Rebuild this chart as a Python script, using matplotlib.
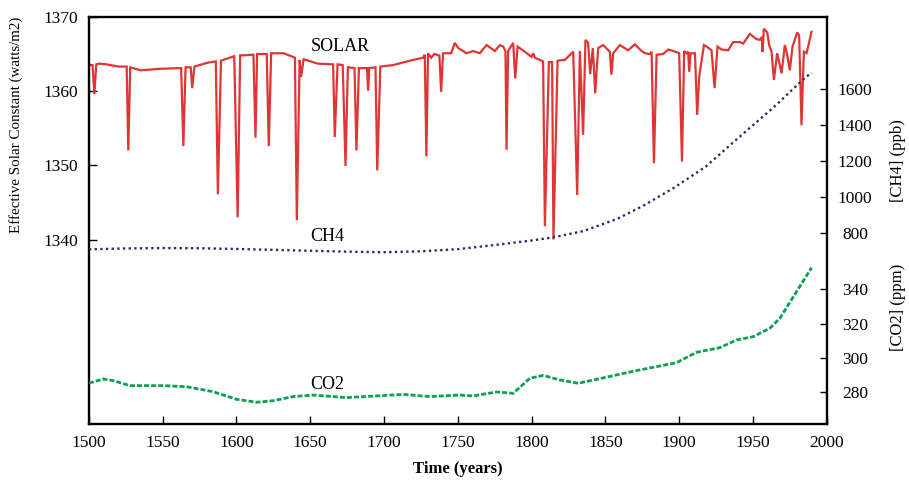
import numpy as np
import matplotlib
matplotlib.use("Agg")
from matplotlib import pyplot as plt

plt.rcParams['font.family'] = ['Liberation Serif', 'DejaVu Serif']
plt.rcParams['font.size'] = 12.5

# effective solar constant (watts/m2)
solar_year = [1500, 1502.5, 1503.7, 1505, 1507, 1512, 1520, 1525.6, 1526.7, 1528,
              1535, 1548, 1562.5, 1564, 1565.5, 1569, 1570, 1571.5, 1580, 1586,
              1587.4, 1589.5, 1598.5, 1600.8, 1602.5, 1611.5, 1612.9, 1614, 1620.5, 1621.9,
              1623.5, 1632, 1639.6, 1640.9, 1642.8, 1643.8, 1645.5, 1655, 1665.5, 1666.6,
              1668.5, 1672, 1673.9, 1675.5, 1680, 1681.3, 1683, 1688.5, 1689.2, 1690,
              1694.2, 1695.4, 1697.5, 1706, 1719.7, 1726.5, 1727.6, 1728.7, 1729.8, 1732,
              1734, 1737.5, 1738.7, 1740, 1745.5, 1748, 1750.3, 1755.9, 1760.4, 1764.9,
              1769.5, 1775.1, 1778.5, 1780.7, 1782.3, 1783.0, 1784.1, 1787.5, 1788.9, 1790.5,
              1795.4, 1799.9, 1801.1, 1802.2, 1807.8, 1809.0, 1811.7, 1813.9, 1814.8, 1817.6,
              1822.5, 1828.2, 1830.9, 1832.7, 1834.9, 1836.5, 1838.3, 1839.7, 1841.5, 1843.1,
              1845.1, 1848.5, 1853.0, 1854.1, 1855.3, 1859.8, 1865.4, 1870.0, 1874.5, 1876.8,
              1880.2, 1881.3, 1882.9, 1884.7, 1889.2, 1892.6, 1896.0, 1900.0, 1901.9, 1903.4,
              1905.0, 1906.1, 1906.8, 1907.7, 1910.7, 1912.2, 1913.6, 1916.8, 1918.6, 1921.9,
              1924.0, 1926.0, 1928.7, 1933.2, 1936.6, 1941.2, 1943.4, 1947.9, 1952.4, 1954.7,
              1956.1, 1956.5, 1957.4, 1959.7, 1961.0, 1962.6, 1964.2, 1966.4, 1969.4, 1971.6,
              1972.8, 1975.0, 1976.8, 1980.0, 1981.3, 1982.9, 1984.5, 1986.3, 1987.4, 1989.7]
solar_val = [1363.5, 1363.5, 1359.6, 1363.6, 1363.7, 1363.6, 1363.3, 1363.3, 1352.0, 1363.2,
             1362.8, 1363.0, 1363.1, 1352.6, 1363.2, 1363.2, 1360.4, 1363.3, 1363.8, 1364.0,
             1346.1, 1364.1, 1364.7, 1343.0, 1364.8, 1364.9, 1353.7, 1365.0, 1365.0, 1352.6,
             1365.1, 1365.1, 1364.5, 1342.6, 1364.2, 1361.9, 1364.3, 1363.7, 1363.6, 1353.8,
             1363.6, 1363.5, 1349.9, 1363.2, 1363.1, 1352.0, 1363.1, 1363.1, 1360.1, 1363.1,
             1363.2, 1349.3, 1363.3, 1363.5, 1364.2, 1364.5, 1364.9, 1351.2, 1365.1, 1364.5,
             1365.0, 1364.8, 1359.9, 1365.1, 1365.1, 1366.5, 1365.8, 1365.1, 1365.4, 1365.1,
             1366.2, 1365.4, 1366.2, 1366.0, 1365.4, 1352.1, 1365.4, 1366.5, 1361.7, 1366.0,
             1365.3, 1364.6, 1365.1, 1364.5, 1364.0, 1341.8, 1363.9, 1363.9, 1340.0, 1364.1,
             1364.2, 1365.3, 1346.0, 1365.4, 1354.1, 1366.9, 1366.5, 1362.3, 1365.8, 1359.7,
             1365.8, 1366.2, 1365.3, 1362.2, 1365.1, 1366.2, 1365.5, 1366.3, 1365.4, 1365.1,
             1365.0, 1365.3, 1350.3, 1364.9, 1365.0, 1365.6, 1365.4, 1365.1, 1350.5, 1365.4,
             1365.1, 1365.3, 1362.6, 1365.1, 1365.1, 1356.8, 1362.0, 1366.2, 1366.0, 1365.5,
             1360.4, 1366.0, 1365.6, 1365.5, 1366.6, 1366.6, 1366.4, 1367.7, 1367.0, 1366.9,
             1367.3, 1365.3, 1368.4, 1367.9, 1366.2, 1365.3, 1361.5, 1365.1, 1362.4, 1366.2,
             1365.3, 1362.8, 1366.0, 1367.9, 1367.5, 1355.4, 1365.3, 1365.1, 1366.0, 1368.0]

# methane (ppb)
ch4_year = [1500, 1525, 1550, 1575, 1600, 1625, 1650, 1675, 1700, 1725, 1750, 1775,
            1800, 1815, 1835, 1858, 1875, 1896, 1918, 1941, 1964, 1986, 1990]
ch4_val = [711, 716, 718, 717, 713, 708, 703, 698, 695, 700, 712, 735,
           760, 778, 812, 880, 950, 1050, 1170, 1336, 1499, 1669, 1690]

# carbon dioxide (ppm)
co2_year = [1500, 1509.8, 1516.5, 1527.8, 1550.4, 1566, 1584, 1600, 1613.7, 1625,
            1638.5, 1652, 1674.7, 1697.2, 1713, 1731, 1751.4, 1760.4, 1776.3, 1787.5,
            1798.8, 1807.9, 1819.2, 1831.6, 1846.3, 1871.1, 1898.2, 1911.8, 1927.6, 1938.9,
            1950.1, 1961.4, 1968.2, 1979.5, 1989.7]
co2_val = [285.1, 287.6, 286.6, 283.7, 283.7, 283.1, 280.2, 275.7, 274.0, 274.9,
           277.3, 278.2, 276.7, 277.8, 278.6, 277.3, 278.2, 277.7, 280.0, 279.2,
           288.0, 289.7, 287.0, 285.1, 287.8, 292.5, 297.1, 303.2, 305.9, 310.4,
           312.3, 317.2, 323.0, 338.6, 352.6]

x_ticks = [1500, 1550, 1600, 1650, 1700, 1750, 1800, 1850, 1900, 1950, 2000]
solar_ticks = [1340, 1350, 1360, 1370]
ch4_ticks = [800, 1000, 1200, 1400, 1600]
co2_ticks = [280, 300, 320, 340]

fig = plt.figure(figsize=(9.09, 4.82), dpi=100)
ax = fig.add_axes([0.0978, 0.1197, 0.8117, 0.8453])
ax2 = ax.twinx()
ax3 = ax.twinx()

ax.plot(solar_year, solar_val, color="#e03535", lw=1.6, solid_joinstyle="miter")
ax2.plot(ch4_year, ch4_val, color="#2d2d6b", lw=1.7, linestyle=(0, (1, 1.4)))
ax3.plot(co2_year, co2_val, color="#0d9f55", lw=2.0, linestyle=(0, (1.8, 0.75)))

ax.set_xlim(1500, 2000)
ax.set_ylim(1315.1, 1370)
ax2.set_ylim(-260, 2001)
ax3.set_ylim(261.1, 499.2)

ax.set_xticks(x_ticks)
ax.set_yticks(solar_ticks)
ax2.set_yticks(ch4_ticks)
ax3.set_yticks(co2_ticks)

for s in ax.spines.values():
    s.set_linewidth(1.7)
for a in (ax2, ax3):
    for s in a.spines.values():
        s.set_visible(False)

ax.tick_params(axis="x", direction="in", length=5.5, width=1, pad=8)
ax.tick_params(axis="y", direction="in", length=5.5, width=1, pad=8,
               left=True, right=False)
for a in (ax2, ax3):
    a.tick_params(axis="y", direction="in", length=5, width=1, pad=20.4,
                  left=False, right=True, labelright=True)
    plt.setp(a.get_yticklabels(), ha="center")

ax.text(1650, 1365.43, "SOLAR", ha="left", va="baseline", fontsize=13)
ax.text(1650, 1339.8, "CH4", ha="left", va="baseline", fontsize=13)
ax.text(1650, 1319.8, "CO2", ha="left", va="baseline", fontsize=13)

ax.set_xlabel("Time (years)", fontweight="bold", fontsize=12)
ax.xaxis.set_label_coords(0.5, -0.09)
ax.set_ylabel("Effective Solar Constant (watts/m2)", fontsize=10.8,
              ha="center", va="center")
ax.yaxis.set_label_coords(-0.0988, 0.734)
ax2.set_ylabel("[CH4] (ppb)", rotation=90, fontsize=12,
               ha="center", va="center", rotation_mode="default")
ax2.yaxis.set_label_coords(1.0966, 0.648)
ax3.set_ylabel("[CO2] (ppm)", rotation=90, fontsize=12,
               ha="center", va="center", rotation_mode="default")
ax3.yaxis.set_label_coords(1.0966, 0.2866)

fig.savefig("out.png", dpi=100)
